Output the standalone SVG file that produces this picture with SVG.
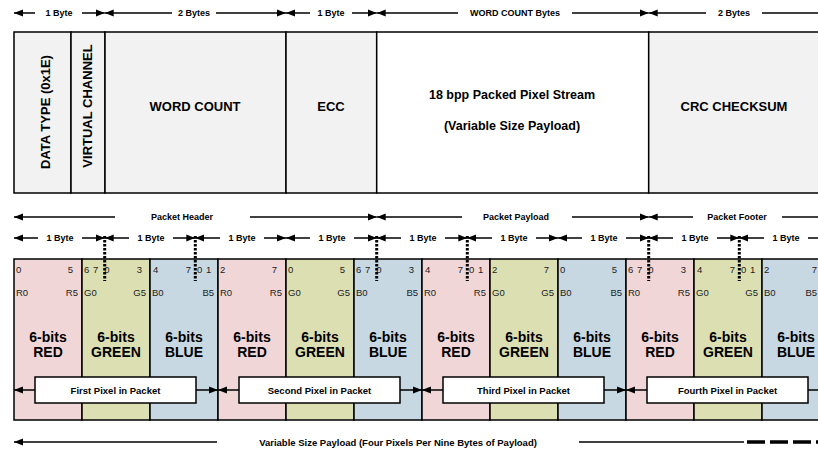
<svg xmlns="http://www.w3.org/2000/svg" width="818" height="451" viewBox="0 0 818 451">
<style>
.ln{stroke:#000;stroke-width:1.5;fill:none}
.s{marker-start:url(#ah)}
.e{marker-end:url(#ah)}
.lbl{font-family:"Liberation Sans",Arial,sans-serif;font-weight:bold;font-size:9px;text-anchor:middle;fill:#000}
.big{font-family:"Liberation Sans",Arial,sans-serif;font-weight:bold;font-size:13px;text-anchor:middle;fill:#000}
.fld{stroke:#000;stroke-width:1.5;fill:#f2f2f2}
.bit{font-family:"Liberation Sans",Arial,sans-serif;font-size:9.5px;fill:#222;word-spacing:1px}
.end{text-anchor:end}
.comp{font-family:"Liberation Sans",Arial,sans-serif;font-size:9.5px;fill:#222}
.cell{stroke:#000;stroke-width:1.5}
.r{fill:#f0d6d6}.g{fill:#dcdfb2}.b{fill:#c7d8e2}
.cl{font-family:"Liberation Sans",Arial,sans-serif;font-weight:bold;font-size:14px;text-anchor:middle;fill:#000}
.pbox{fill:#fff;stroke:#000;stroke-width:1.5}
.plbl{font-family:"Liberation Sans",Arial,sans-serif;font-weight:bold;font-size:9.5px;text-anchor:middle;fill:#000}
.dot{stroke:#000;stroke-width:3;stroke-dasharray:2.5 1.5;fill:none}
</style>
<defs>
<marker id="ah" markerUnits="userSpaceOnUse" markerWidth="9" markerHeight="8" refX="9" refY="4" orient="auto-start-reverse">
<path d="M0,0.5 L9,4 L0,7.5 z" fill="#000"/>
</marker>
</defs>
<rect width="818" height="451" fill="#fff"/>

<g id="field-datatype"><rect class="fld" x="14" y="32" width="57" height="161"/><text class="big" transform="translate(50,112) rotate(-90)">DATA TYPE (0x1E)</text></g>
<g id="field-vc"><rect class="fld" x="71" y="32" width="34" height="161"/><text class="big" transform="translate(92,106) rotate(-90)">VIRTUAL CHANNEL</text></g>
<g id="field-wc"><rect class="fld" x="105" y="32" width="181" height="161"/><text class="big" x="195" y="111">WORD COUNT</text></g>
<g id="field-ecc"><rect class="fld" x="286" y="32" width="90.7" height="161"/><text class="big" x="331" y="111">ECC</text></g>
<g id="field-payload"><rect class="fld" style="fill:#fff" x="376.7" y="32" width="272" height="161"/><text class="big" style="font-size:12.5px" x="512" y="99">18 bpp Packed Pixel Stream</text><text class="big" style="font-size:12.5px" x="512" y="130">(Variable Size Payload)</text></g>
<g id="field-crc"><rect class="fld" x="648.7" y="32" width="190" height="161"/><text class="big" x="734" y="111">CRC CHECKSUM</text></g>

<g id="cells">
<g id="cell-0"><rect class="cell r" x="14" y="259" width="68" height="161"/><text class="cl" x="48" y="342">6-bits</text><text class="cl" x="48" y="357">RED</text></g>
<g id="cell-1"><rect class="cell g" x="82" y="259" width="68" height="161"/><text class="cl" x="116" y="342">6-bits</text><text class="cl" x="116" y="357">GREEN</text></g>
<g id="cell-2"><rect class="cell b" x="150" y="259" width="68" height="161"/><text class="cl" x="184" y="342">6-bits</text><text class="cl" x="184" y="357">BLUE</text></g>
<g id="cell-3"><rect class="cell r" x="218" y="259" width="68" height="161"/><text class="cl" x="252" y="342">6-bits</text><text class="cl" x="252" y="357">RED</text></g>
<g id="cell-4"><rect class="cell g" x="286" y="259" width="68" height="161"/><text class="cl" x="320" y="342">6-bits</text><text class="cl" x="320" y="357">GREEN</text></g>
<g id="cell-5"><rect class="cell b" x="354" y="259" width="68" height="161"/><text class="cl" x="388" y="342">6-bits</text><text class="cl" x="388" y="357">BLUE</text></g>
<g id="cell-6"><rect class="cell r" x="422" y="259" width="68" height="161"/><text class="cl" x="456" y="342">6-bits</text><text class="cl" x="456" y="357">RED</text></g>
<g id="cell-7"><rect class="cell g" x="490" y="259" width="68" height="161"/><text class="cl" x="524" y="342">6-bits</text><text class="cl" x="524" y="357">GREEN</text></g>
<g id="cell-8"><rect class="cell b" x="558" y="259" width="68" height="161"/><text class="cl" x="592" y="342">6-bits</text><text class="cl" x="592" y="357">BLUE</text></g>
<g id="cell-9"><rect class="cell r" x="626" y="259" width="68" height="161"/><text class="cl" x="660" y="342">6-bits</text><text class="cl" x="660" y="357">RED</text></g>
<g id="cell-10"><rect class="cell g" x="694" y="259" width="68" height="161"/><text class="cl" x="728" y="342">6-bits</text><text class="cl" x="728" y="357">GREEN</text></g>
<g id="cell-11"><rect class="cell b" x="762" y="259" width="68" height="161"/><text class="cl" x="796" y="342">6-bits</text><text class="cl" x="796" y="357">BLUE</text></g>
</g>

<g id="bits">
<text class="bit" x="16" y="273">0</text><text class="bit end" x="73" y="273">5</text>
<text class="bit" x="84" y="273">6 7</text><text class="bit" x="104.3" y="273">0</text><text class="bit end" x="142" y="273">3</text>
<text class="bit" x="153" y="273">4</text><text class="bit end" x="191" y="273">7</text><text class="bit" x="197" y="273">0 1</text>
<text class="bit" x="220" y="273">2</text><text class="bit end" x="277" y="273">7</text>
<text class="bit" x="288" y="273">0</text><text class="bit end" x="345" y="273">5</text>
<text class="bit" x="356" y="273">6 7</text><text class="bit" x="376.3" y="273">0</text><text class="bit end" x="414" y="273">3</text>
<text class="bit" x="425" y="273">4</text><text class="bit end" x="463" y="273">7</text><text class="bit" x="469" y="273">0 1</text>
<text class="bit" x="492" y="273">2</text><text class="bit end" x="549" y="273">7</text>
<text class="bit" x="560" y="273">0</text><text class="bit end" x="617" y="273">5</text>
<text class="bit" x="628" y="273">6 7</text><text class="bit" x="648.3" y="273">0</text><text class="bit end" x="686" y="273">3</text>
<text class="bit" x="697" y="273">4</text><text class="bit end" x="735" y="273">7</text><text class="bit" x="741" y="273">0 1</text>
<text class="bit" x="764" y="273">2</text><text class="bit end" x="817" y="273">7</text>
</g>
<g id="comp">
<text class="comp" x="16" y="296">R0</text><text class="comp end" x="78" y="296">R5</text>
<text class="comp" x="84" y="296">G0</text><text class="comp end" x="146" y="296">G5</text>
<text class="comp" x="152" y="296">B0</text><text class="comp end" x="214" y="296">B5</text>
<text class="comp" x="220" y="296">R0</text><text class="comp end" x="282" y="296">R5</text>
<text class="comp" x="288" y="296">G0</text><text class="comp end" x="350" y="296">G5</text>
<text class="comp" x="356" y="296">B0</text><text class="comp end" x="418" y="296">B5</text>
<text class="comp" x="424" y="296">R0</text><text class="comp end" x="486" y="296">R5</text>
<text class="comp" x="492" y="296">G0</text><text class="comp end" x="554" y="296">G5</text>
<text class="comp" x="560" y="296">B0</text><text class="comp end" x="622" y="296">B5</text>
<text class="comp" x="628" y="296">R0</text><text class="comp end" x="690" y="296">R5</text>
<text class="comp" x="696" y="296">G0</text><text class="comp end" x="758" y="296">G5</text>
<text class="comp" x="764" y="296">B0</text><text class="comp end" x="817" y="296">B5</text>
</g>

<g id="pixel-1"><rect class="pbox" x="35" y="377" width="161" height="26"/><text class="plbl" x="115.5" y="393.5">First Pixel in Packet</text></g>
<g id="pixel-2"><rect class="pbox" x="239" y="377" width="161" height="26"/><text class="plbl" x="319.5" y="393.5">Second Pixel in Packet</text></g>
<g id="pixel-3"><rect class="pbox" x="443" y="377" width="161" height="26"/><text class="plbl" x="523.5" y="393.5">Third Pixel in Packet</text></g>
<g id="pixel-4"><rect class="pbox" x="647" y="377" width="161" height="26"/><text class="plbl" x="727.5" y="393.5">Fourth Pixel in Packet</text></g>

<g id="connectors">
<line class="ln s" x1="14" y1="13" x2="35" y2="13"/><line class="ln e" x1="82" y1="13" x2="104.7" y2="13"/>
<line class="ln s" x1="104.7" y1="13" x2="172" y2="13"/><line class="ln e" x1="216" y1="13" x2="286" y2="13"/>
<line class="ln s" x1="286" y1="13" x2="310" y2="13"/><line class="ln e" x1="352" y1="13" x2="376.7" y2="13"/>
<line class="ln s" x1="376.7" y1="13" x2="458" y2="13"/><line class="ln e" x1="572" y1="13" x2="648.7" y2="13"/>
<line class="ln s" x1="648.7" y1="13" x2="706" y2="13"/><line class="ln" x1="762" y1="13" x2="830" y2="13"/>
<line class="ln s" x1="14" y1="217" x2="115" y2="217"/><line class="ln e" x1="250" y1="217" x2="376.7" y2="217"/>
<line class="ln s" x1="376.7" y1="217" x2="462" y2="217"/><line class="ln e" x1="572" y1="217" x2="648.7" y2="217"/>
<line class="ln s" x1="648.7" y1="217" x2="693" y2="217"/><line class="ln" x1="782" y1="217" x2="830" y2="217"/>
<line class="ln s" x1="14" y1="238" x2="38" y2="238"/><line class="ln e" x1="82" y1="238" x2="104.7" y2="238"/>
<line class="ln s" x1="104.7" y1="238" x2="129" y2="238"/><line class="ln e" x1="173" y1="238" x2="195.3" y2="238"/>
<line class="ln s" x1="195.3" y1="238" x2="220" y2="238"/><line class="ln e" x1="264" y1="238" x2="286" y2="238"/>
<line class="ln s" x1="286" y1="238" x2="310" y2="238"/><line class="ln e" x1="354" y1="238" x2="376.7" y2="238"/>
<line class="ln s" x1="376.7" y1="238" x2="401" y2="238"/><line class="ln e" x1="445" y1="238" x2="467.3" y2="238"/>
<line class="ln s" x1="467.3" y1="238" x2="492" y2="238"/><line class="ln e" x1="536" y1="238" x2="558" y2="238"/>
<line class="ln s" x1="558" y1="238" x2="582" y2="238"/><line class="ln e" x1="626" y1="238" x2="648.7" y2="238"/>
<line class="ln s" x1="648.7" y1="238" x2="673" y2="238"/><line class="ln e" x1="717" y1="238" x2="739.3" y2="238"/>
<line class="ln s" x1="739.3" y1="238" x2="764" y2="238"/><line class="ln" x1="808" y1="238" x2="830" y2="238"/>
<line class="ln s" x1="14" y1="390" x2="35" y2="390"/><line class="ln e" x1="196" y1="390" x2="218" y2="390"/>
<line class="ln s" x1="218" y1="390" x2="239" y2="390"/><line class="ln e" x1="400" y1="390" x2="422" y2="390"/>
<line class="ln s" x1="422" y1="390" x2="443" y2="390"/><line class="ln e" x1="604" y1="390" x2="626" y2="390"/>
<line class="ln s" x1="626" y1="390" x2="647" y2="390"/><line class="ln" x1="808" y1="390" x2="830" y2="390"/>
<line class="dot" x1="104.7" y1="236" x2="104.7" y2="281"/>
<line class="dot" x1="195.3" y1="236" x2="195.3" y2="281"/>
<line class="dot" x1="376.7" y1="236" x2="376.7" y2="281"/>
<line class="dot" x1="467.3" y1="236" x2="467.3" y2="281"/>
<line class="dot" x1="648.7" y1="236" x2="648.7" y2="281"/>
<line class="dot" x1="739.3" y1="236" x2="739.3" y2="281"/>
<line class="ln s" x1="14" y1="442" x2="217" y2="442"/><line class="ln" x1="579" y1="442" x2="744" y2="442"/>
<line x1="747" y1="442" x2="830" y2="442" stroke="#000" stroke-width="3.5" stroke-dasharray="18 5"/>
</g>

<g id="labels">
<text class="lbl" x="59" y="16">1 Byte</text>
<text class="lbl" x="194" y="16">2 Bytes</text>
<text class="lbl" x="331" y="16">1 Byte</text>
<text class="lbl" x="515" y="16">WORD COUNT Bytes</text>
<text class="lbl" x="734" y="16">2 Bytes</text>
<text class="lbl" x="182" y="220">Packet Header</text>
<text class="lbl" x="516" y="220">Packet Payload</text>
<text class="lbl" x="737" y="220">Packet Footer</text>
<text class="lbl" x="60" y="241">1 Byte</text>
<text class="lbl" x="151" y="241">1 Byte</text>
<text class="lbl" x="242" y="241">1 Byte</text>
<text class="lbl" x="332" y="241">1 Byte</text>
<text class="lbl" x="423" y="241">1 Byte</text>
<text class="lbl" x="514" y="241">1 Byte</text>
<text class="lbl" x="604" y="241">1 Byte</text>
<text class="lbl" x="695" y="241">1 Byte</text>
<text class="lbl" x="786" y="241">1 Byte</text>
<text class="lbl" style="font-size:9.5px" x="398" y="445.5">Variable Size Payload  (Four Pixels Per Nine Bytes of Payload)</text>
</g>
</svg>
